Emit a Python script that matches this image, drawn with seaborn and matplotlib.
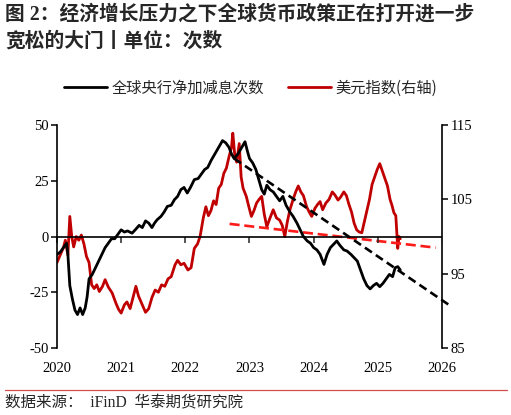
import numpy as np
import pandas as pd
import matplotlib
matplotlib.use("Agg")
import matplotlib.pyplot as plt
import seaborn as sns

# 全球央行净加减息次数 (left axis)
blk_x = [2020.00, 2020.05, 2020.10, 2020.15, 2020.17, 2020.20, 2020.24, 2020.28, 2020.32, 2020.36,
         2020.40, 2020.44, 2020.47, 2020.50, 2020.55, 2020.60, 2020.65, 2020.70, 2020.75, 2020.80,
         2020.85, 2020.90, 2020.95, 2021.00, 2021.05, 2021.10, 2021.17, 2021.22, 2021.28, 2021.33,
         2021.38, 2021.43, 2021.48, 2021.52, 2021.56, 2021.62, 2021.67, 2021.72, 2021.78, 2021.83,
         2021.88, 2021.93, 2021.98, 2022.03, 2022.08, 2022.14, 2022.20, 2022.25, 2022.30, 2022.35,
         2022.40, 2022.46, 2022.52, 2022.58, 2022.63, 2022.68, 2022.72, 2022.76, 2022.82, 2022.88,
         2022.93, 2022.97, 2023.00, 2023.05, 2023.10, 2023.15, 2023.19, 2023.23, 2023.27, 2023.32,
         2023.37, 2023.42, 2023.47, 2023.52, 2023.57, 2023.63, 2023.68, 2023.74, 2023.79, 2023.84,
         2023.90, 2023.95, 2024.00, 2024.05, 2024.10, 2024.16, 2024.21, 2024.26, 2024.31, 2024.36,
         2024.41, 2024.47, 2024.52, 2024.58, 2024.63, 2024.68, 2024.73, 2024.78, 2024.83, 2024.88,
         2024.93, 2024.98, 2025.03, 2025.08, 2025.13, 2025.18, 2025.23, 2025.27, 2025.31, 2025.35]
blk_y = [-8, -7, -5, -3, -8, -22, -28, -33, -35, -32,
         -35, -32, -27, -19, -17, -14, -11, -8, -5, -3,
         -1, -1, 1, 3, 2, 2.5, 1.5, 3, 5, 4,
         7, 6, 4, 6, 7.5, 9, 11, 13.5, 14, 16.5,
         18, 21, 22, 19.5, 22, 25.5, 26, 28, 30, 31,
         34, 37, 40, 43, 42, 40, 37, 35, 37, 40,
         42.5, 38, 35, 33, 30, 25, 21, 19, 23, 21,
         20, 18, 16, 18, 14, 11, 9, 6, 3, 0,
         -2, -3, -5, -6, -8, -12.5, -8, -5, -3.5, -2,
         -4, -6, -6.5, -8, -9.5, -11, -15, -19, -22, -23.5,
         -22, -21, -22.5, -21, -19, -17, -18, -14, -13.5, -15]

# 美元指数 (right axis)
usd_x = [2020.00, 2020.05, 2020.10, 2020.13, 2020.17, 2020.20, 2020.23, 2020.26, 2020.30, 2020.34,
         2020.38, 2020.42, 2020.46, 2020.50, 2020.54, 2020.58, 2020.62, 2020.66, 2020.71, 2020.75,
         2020.80, 2020.86, 2020.92, 2020.96, 2021.00, 2021.05, 2021.09, 2021.14, 2021.19, 2021.23,
         2021.27, 2021.32, 2021.38, 2021.43, 2021.48, 2021.53, 2021.58, 2021.63, 2021.68, 2021.73,
         2021.78, 2021.84, 2021.88, 2021.93, 2021.98, 2022.04, 2022.09, 2022.14, 2022.19, 2022.23,
         2022.28, 2022.32, 2022.36, 2022.40, 2022.44, 2022.48, 2022.52, 2022.56, 2022.60, 2022.64,
         2022.68, 2022.72, 2022.74, 2022.77, 2022.80, 2022.84, 2022.87, 2022.90, 2022.95, 2022.99,
         2023.03, 2023.07, 2023.11, 2023.15, 2023.19, 2023.23, 2023.27, 2023.32, 2023.37, 2023.42,
         2023.47, 2023.51, 2023.55, 2023.59, 2023.63, 2023.68, 2023.72, 2023.76, 2023.80, 2023.84,
         2023.89, 2023.93, 2023.97, 2024.02, 2024.06, 2024.10, 2024.14, 2024.19, 2024.24, 2024.29,
         2024.33, 2024.38, 2024.42, 2024.47, 2024.51, 2024.55, 2024.59, 2024.63, 2024.67, 2024.71,
         2024.75, 2024.79, 2024.83, 2024.87, 2024.91, 2024.95, 2024.99, 2025.03, 2025.07, 2025.11,
         2025.15, 2025.19, 2025.22, 2025.25, 2025.28, 2025.31, 2025.33, 2025.35]
usd_y = [96.5, 97.5, 98.5, 99.5, 97.5, 102.7, 100, 98.6, 100, 99.5,
         100.2, 99, 97.3, 96.5, 93.5, 93, 93.5, 92.6, 93.3, 94.2,
         93.2, 92.4, 91, 90.2, 89.7, 90.8, 91.2, 90.3, 92, 93.3,
         92, 91, 89.8, 90.3, 91.8, 92.8, 92.5, 93.5, 93.3, 94.3,
         94.6, 96.2, 96.8, 96.2, 96.4, 95.5, 95.8, 98.4, 99, 100,
         102.5, 104, 102.8, 103.5, 104.8, 104.3, 106.5, 107, 108.5, 109.2,
         110.7, 112, 113.9, 111, 110, 112.5, 108, 106.5, 105.4, 104,
         102.7, 103.5, 104.5, 105, 105.4, 103, 101.3, 102.5, 103.6, 102.5,
         102.2, 101.5, 100, 102, 103.6, 105, 106, 106.8, 106, 105.5,
         104, 103.3, 102.7, 103.8, 104.3, 104.7, 103.6, 104.5, 105, 106,
         105.6, 104.9, 105.3, 106, 105.5, 104.3, 103.3, 101.8, 100.9, 100.6,
         100.5, 102, 103.5, 105, 107, 108, 109, 109.8, 108.8, 107.8,
         106.8, 105, 104.2, 103.2, 102.8, 98.4, 100, 99.7]

# trend lines (end points)
blk_trend_x = [2022.76, 2026.1]
blk_trend_y = [35, -30.5]
usd_trend_x = [2022.69, 2025.9]
usd_trend_y = [101.7, 98.5]

years = [2020, 2021, 2022, 2023, 2024, 2025, 2026]
left_ticks = [-50, -25, 0, 25, 50]
right_ticks = [85, 95, 105, 115]

title_1 = "图 2：经济增长压力之下全球货币政策正在打开进一步"
title_2 = "宽松的大门丨单位：次数"
source = "数据来源：  iFinD  华泰期货研究院"

sns.set_style("white")
plt.rcParams['font.family'] = ['Liberation Serif', 'Noto Sans CJK SC', 'DejaVu Sans']
cjk = ['Noto Sans CJK SC', 'DejaVu Sans']

fig = plt.figure(figsize=(5.11, 4.15), dpi=100)
ax = fig.add_axes([0.1115, 0.1614, 0.7535, 0.5374])
ax2 = ax.twinx()

blk = pd.DataFrame({'x': blk_x, 'y': blk_y})
usd = pd.DataFrame({'x': usd_x, 'y': usd_y})

sns.lineplot(data=blk, x='x', y='y', ax=ax, color='black', linewidth=2.0, zorder=3)
sns.lineplot(x=blk_trend_x, y=blk_trend_y, ax=ax, color='black', linewidth=1.9, zorder=4)
ax.lines[-1].set_linestyle((0, (3.2, 1.8)))
ax.lines[-1].set_clip_on(False)

sns.lineplot(data=usd, x='x', y='y', ax=ax2, color='#c00000', linewidth=2.0, zorder=2)
sns.lineplot(x=usd_trend_x, y=usd_trend_y, ax=ax2, color='#ff1a1a', linewidth=1.9, zorder=3)
ax2.lines[-1].set_linestyle((0, (3.8, 1.8)))

# draw the left axis above the twin so the black line sits on top
ax.set_zorder(ax2.get_zorder() + 1)
ax.patch.set_visible(False)

ax.set_xlim(2020, 2026)
ax.set_ylim(-50, 50)
ax2.set_ylim(85, 115)
ax.set_xticks(years)
ax.set_xticklabels([str(y) for y in years])
ax.set_yticks(left_ticks)
ax.set_yticklabels([str(v) for v in left_ticks])
ax2.set_yticks(right_ticks)
ax2.set_yticklabels([str(v) for v in right_ticks])
ax.set_xlabel("")
ax.set_ylabel("")
ax2.set_ylabel("")

for a in (ax, ax2):
    for s in ('top', 'bottom'):
        a.spines[s].set_visible(False)
ax.spines['right'].set_visible(False)
ax2.spines['left'].set_visible(False)
ax.spines['left'].set_linewidth(1.2)
ax2.spines['right'].set_linewidth(1.2)
ax.spines['left'].set_color('black')
ax2.spines['right'].set_color('black')

ax.tick_params(axis='y', direction='out', length=4, width=1.1, labelsize=10.5, pad=2, colors='black')
ax2.tick_params(axis='y', direction='out', length=4, width=1.1, labelsize=10.5, pad=2, colors='black')
ax.tick_params(axis='x', length=0, labelsize=10.5, pad=10, colors='black')

# zero line with year ticks pointing up
ax.axhline(0, color='black', linewidth=1.2, zorder=1)
sec = ax.secondary_xaxis(0.5)
sec.set_xticks(years)
sec.set_xticklabels([])
sec.tick_params(axis='x', direction='in', length=4, width=1.1)
for s in sec.spines.values():
    s.set_visible(False)

h1 = ax.lines[0]
h2 = ax2.lines[0]
for a in (ax, ax2):
    if a.get_legend():
        a.get_legend().remove()
fig.legend([h1, h2], ["全球央行净加减息次数", "美元指数(右轴)"], loc='center',
           bbox_to_anchor=(0.491, 0.788), ncol=2, frameon=False,
           prop={'family': cjk, 'size': 11}, handlelength=2.8, handletextpad=0.3,
           columnspacing=1.6)

fig.text(0.01, 0.964, title_1, ha='left', va='center', fontsize=14.2, fontweight='bold',
         family=['Liberation Serif', 'Noto Sans CJK SC'])
fig.text(0.01, 0.899, title_2, ha='left', va='center', fontsize=14.2, fontweight='bold',
         family=['Liberation Serif', 'Noto Sans CJK SC'])

fig.add_artist(plt.Line2D([0.01, 0.992], [0.06, 0.06], color='#c00000', linewidth=0.9,
                          alpha=0.7, transform=fig.transFigure))
fig.text(0.01, 0.029, source, ha='left', va='center', fontsize=11.2,
         family=['Liberation Serif', 'Noto Sans CJK SC'])

fig.savefig('out.png', dpi=100)
